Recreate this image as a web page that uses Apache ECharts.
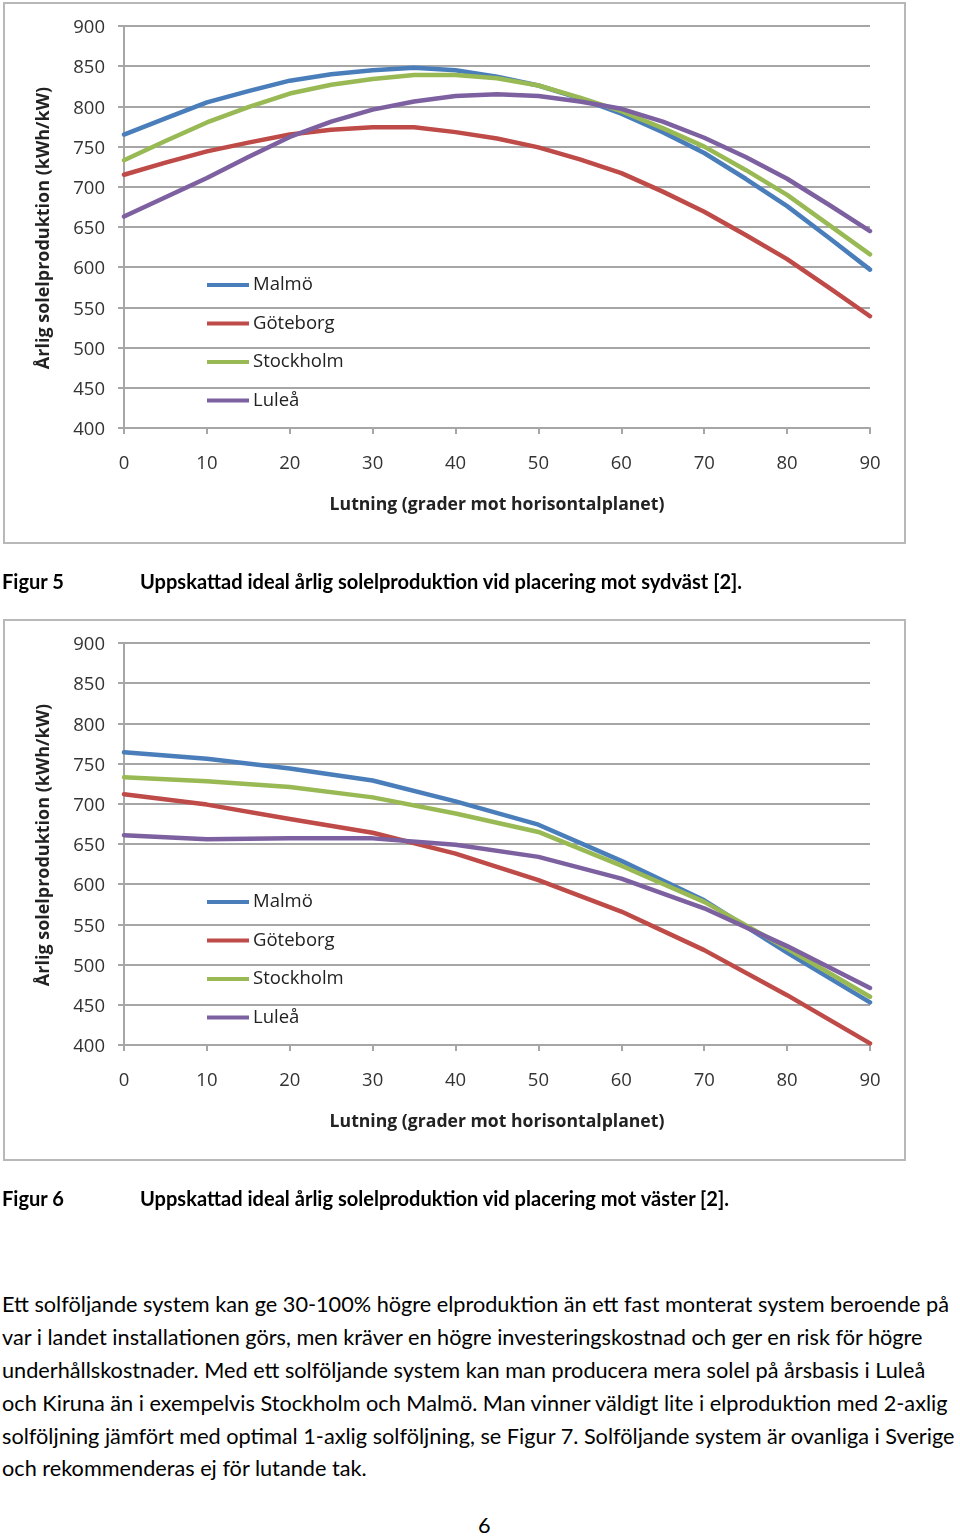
<!DOCTYPE html>
<html><head><meta charset="utf-8">
<script src="https://cdn.jsdelivr.net/npm/echarts@6/dist/echarts.min.js"></script>
<style>
html,body{margin:0;padding:0;background:#fff;width:960px;height:1538px;overflow:hidden;}
#chart{position:absolute;left:0;top:0;width:960px;height:1230px;}
.txt{position:absolute;white-space:nowrap;color:#000;font-family:Lato,sans-serif;line-height:1;}
</style></head><body>
<div id="chart"></div>
<div id="texts"></div>
<script>
// ---------- data ----------
const angles1 = [0,5,10,15,20,25,30,35,40,45,50,55,60,65,70,75,80,85,90];
const malmo1     = [765,785,805,819,832,840,845,848,845,837,826,810,791,768,742,710,676,637,597];
const goteborg1  = [715,730,744,755,765,771,774,774,768,760,749,734,717,694,669,640,610,575,539];
const stockholm1 = [733,757,780,799,816,827,834,839,839,835,826,811,794,773,750,721,690,653,616];
const lulea1     = [663,687,711,737,762,781,796,806,813,815,813,806,797,781,761,737,710,678,645];

const angles2 = [0,10,20,30,40,50,60,70,80,90];
const malmo2     = [764,756,744,729,703,674,629,580,515,453];
const goteborg2  = [712,699,681,664,638,605,566,518,462,402];
const stockholm2 = [733,728,721,708,688,665,623,578,520,460];
const lulea2     = [661,656,657,657,649,634,607,570,523,471];

const seriesNames = ['Malmö','Göteborg','Stockholm','Luleå'];
const colors = ['#4A7EBB','#BE4B48','#98B954','#7D60A0'];
const xTickLabels = [0,10,20,30,40,50,60,70,80,90];
const yTickLabels = [400,450,500,550,600,650,700,750,800,850,900];
const yTitle = 'Årlig solelproduktion (kWh/kW)';
const xTitle = 'Lutning (grader mot horisontalplanet)';
const captions = [
  ['Figur 5','Uppskattad ideal årlig solelproduktion vid placering mot sydväst [2].'],
  ['Figur 6','Uppskattad ideal årlig solelproduktion vid placering mot väster [2].']
];
const bodyLines = [
  'Ett solföljande system kan ge 30-100% högre elproduktion än ett fast monterat system beroende på',
  'var i landet installationen görs, men kräver en högre investeringskostnad och ger en risk för högre',
  'underhållskostnader. Med ett solföljande system kan man producera mera solel på årsbasis i Luleå',
  'och Kiruna än i exempelvis Stockholm och Malmö. Man vinner väldigt lite i elproduktion med 2-axlig',
  'solföljning jämfört med optimal 1-axlig solföljning, se Figur 7. Solföljande system är ovanliga i Sverige',
  'och rekommenderas ej för lutande tak.'
];
const pageNumber = '6';

// ---------- helpers ----------
const ctx = document.createElement('canvas').getContext('2d');
function fitSize(text, weight, family, target){
  ctx.font = weight + ' 100px ' + family;
  return 100 * target / ctx.measureText(text).width;
}
const chartFont = '"Open Sans", sans-serif';
const bodyFont = 'Lato, sans-serif';

// ---------- HTML texts ----------
const texts = document.getElementById('texts');
function addText(str, x, cy, size, weight){
  const d = document.createElement('div');
  d.className = 'txt';
  d.textContent = str;
  d.style.left = x + 'px';
  d.style.top = (cy - size*0.55) + 'px';
  d.style.fontSize = size + 'px';
  d.style.fontWeight = weight;
  texts.appendChild(d);
  return d;
}
const capSize = fitSize(captions[0][1], 'bold', bodyFont, 603);
const capY = [582, 1199];
captions.forEach((c,i)=>{
  addText(c[0], 2, capY[i], capSize, 'bold');
  addText(c[1], 140, capY[i], capSize, 'bold');
});
const bodySize = fitSize(bodyLines[0], 'normal', bodyFont, 948);
const bodyY = [1306,1339,1372,1405,1438,1470];
bodyLines.forEach((l,i)=> addText(l, 2, bodyY[i], bodySize, 'normal'));
addText(pageNumber, 478, 1527, bodySize, 'normal');

// ---------- chart ----------
const titleSize = fitSize(xTitle, 'bold', chartFont, 335);
const gridColor = '#A6A6A6';
const plotTops = [26, 643];
const plotH = 402, plotL = 124, plotW = 746;

function makeAxes(idx){
  const x = {
    type:'value', gridIndex:idx, min:0, max:90, interval:10,
    axisLine:{show:true, onZero:false, lineStyle:{color:gridColor, width:2}},
    axisTick:{show:true, inside:false, length:6, lineStyle:{color:gridColor, width:2}},
    axisLabel:{show:true, margin:26, color:'#333', fontSize:18.5, fontFamily:chartFont,
      formatter:(v)=> xTickLabels.includes(v) ? String(v) : ''},
    splitLine:{show:false}
  };
  const y = {
    type:'value', gridIndex:idx, min:400, max:900, interval:50,
    axisLine:{show:true, lineStyle:{color:gridColor, width:2}},
    axisTick:{show:true, inside:false, length:6, lineStyle:{color:gridColor, width:2}},
    axisLabel:{show:true, margin:19, color:'#333', fontSize:18.5, fontFamily:chartFont,
      formatter:(v)=> yTickLabels.includes(v) ? '{v|' + v + '}' : '',
      rich:{v:{fontSize:18.5, fontFamily:chartFont, color:'#333', padding:[4,0,0,0]}}},
    splitLine:{show:true, lineStyle:{color:gridColor, width:2}}
  };
  return {x, y};
}
const a0 = makeAxes(0), a1 = makeAxes(1);

function mkSeries(name, color, xs, ys, idx){
  return {
    name, type:'line', xAxisIndex:idx, yAxisIndex:idx,
    data: xs.map((x,i)=>[x, ys[i]]),
    showSymbol:false, symbol:'none', smooth:false,
    lineStyle:{color, width:4.5, cap:'round', join:'round'},
    itemStyle:{color}, emphasis:{disabled:true}, animation:false, z:3
  };
}
const set1 = [malmo1, goteborg1, stockholm1, lulea1];
const set2 = [malmo2, goteborg2, stockholm2, lulea2];
const series = [];
seriesNames.forEach((n,i)=> series.push(mkSeries(n, colors[i], angles1, set1[i], 0)));
seriesNames.forEach((n,i)=> series.push(mkSeries(n, colors[i], angles2, set2[i], 1)));

function mkLegend(top){
  return {
    show:true, orient:'vertical', left:207, top, icon:'rect', padding:0,
    itemWidth:42, itemHeight:4, itemGap:18.5, selectedMode:false,
    textStyle:{fontSize:18.5, fontFamily:chartFont, color:'#222', lineHeight:20, padding:[0,0,0,-1]},
    data: seriesNames
  };
}

const frames = [[4,3],[4,620]];
const graphics = [];
frames.forEach((f,i)=>{
  graphics.push({type:'rect', shape:{x:f[0], y:f[1], width:901, height:540},
    style:{fill:'none', stroke:'#B8B8B8', lineWidth:2}, silent:true, z:0});
  graphics.push({type:'text', x:44, y:plotTops[i]+plotH/2+1, rotation:Math.PI/2,
    style:{text:yTitle, fontSize:titleSize*1.02, fontWeight:'bold', fontFamily:chartFont,
      fill:'#222', align:'center', verticalAlign:'middle'}});
  graphics.push({type:'text', x:plotL+plotW/2, y:plotTops[i]+plotH+77,
    style:{text:xTitle, fontSize:titleSize, fontWeight:'bold', fontFamily:chartFont,
      fill:'#222', align:'center', verticalAlign:'middle'}});
});

const option = {
  animation:false,
  backgroundColor:'#fff',
  grid:[
    {left:plotL, top:plotTops[0], width:plotW, height:plotH, outerBoundsMode:'none'},
    {left:plotL, top:plotTops[1], width:plotW, height:plotH, outerBoundsMode:'none'}
  ],
  xAxis:[a0.x, a1.x],
  yAxis:[a0.y, a1.y],
  legend:[mkLegend(275), mkLegend(892)],
  series,
  graphic: graphics
};
const chart = echarts.init(document.getElementById('chart'), null, {renderer:'canvas'});
chart.setOption(option);
</script>
</body></html>
